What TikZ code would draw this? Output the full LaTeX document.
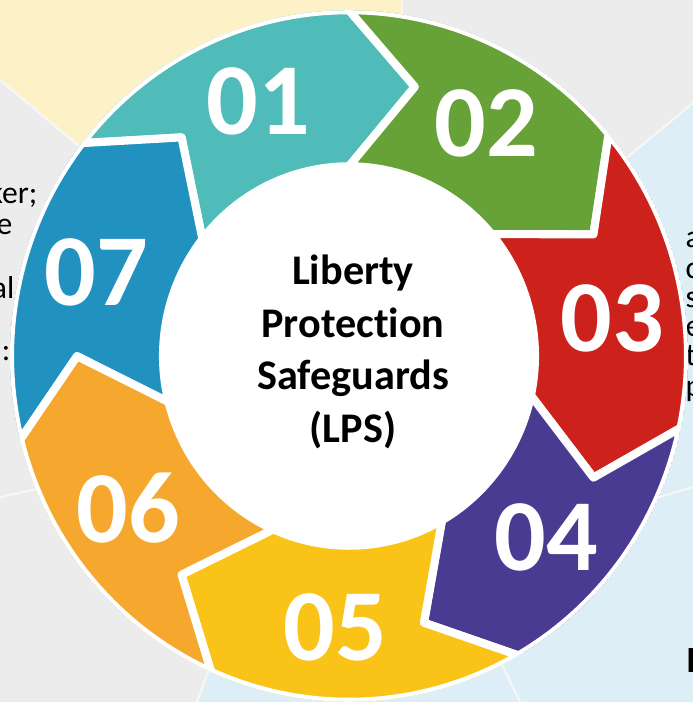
\documentclass[tikz,border=0pt]{standalone}
\usepackage{fontspec}
\setmainfont{Carlito}[Ligatures=NoCommon]
\definecolor{segA}{RGB}{80,188,186}
\definecolor{segB}{RGB}{103,162,57}
\definecolor{segC}{RGB}{204,34,27}
\definecolor{segD}{RGB}{74,59,146}
\definecolor{segE}{RGB}{249,196,23}
\definecolor{segF}{RGB}{245,167,46}
\definecolor{segG}{RGB}{33,145,192}
\definecolor{bggrey}{RGB}{236,236,236}
\definecolor{bgyellow}{RGB}{253,241,199}
\definecolor{bgblue}{RGB}{221,238,246}

\begin{document}
\begin{tikzpicture}[x=0.01cm,y=0.01cm,
    seg/.style={draw=white,line width=2.3pt,line join=round},
    num/.style={text=white,font=\fontsize{29}{29}\selectfont\bfseries,inner sep=0pt},
    seam/.style={draw=white!60!bggrey,line width=0.6pt},
    side/.style={font=\fontsize{9}{9}\selectfont,inner sep=0pt}]
  \useasboundingbox (0,0) rectangle (693,702);
  \fill[bggrey] (0,0) rectangle (693,702);
  \fill[bgyellow] (0,702) -- (402,702) -- (402,500) -- (200,455) -- (0,622) -- cycle;
  \fill[bgblue] (693,599) -- (560,489) -- (350,345) -- (240,118) -- (197,0) -- (693,0) -- cycle;
  \draw[seam] (0,622) -- (200,455);
  \draw[seam] (402,702) -- (402,500);
  \draw[seam] (693,599) -- (560,489);
  \draw[seam] (197,0) -- (240,118);
  \draw[seam] (520,0) -- (480,83);
  \draw[seam] (0,205) -- (150,237);
  \draw[seam] (693,215) -- (600,187);

  \node[side,anchor=base east] (l1) at (38,499) {ker;};
  \node[side,anchor=base east] (l2) at (13,468) {e};
  \node[side,anchor=base east] (l3) at (15,404) {al};
  \node[side,anchor=base east] (l4) at (11,341) {l:};
  \foreach[count=\k] \t/\y in {a/455,c/424,s/395,e/366,t/337,p/306} {
    \node[side,anchor=base west] (r\k) at (685,\y) {\t};
  }
  \node[font=\fontsize{10.5}{10.5}\selectfont\bfseries,inner sep=0pt,anchor=base west] (dd) at (686,30) {D};

  \begin{scope}[shift={(349,346)},yscale=1.02]
    \fill[white] (0,0) circle[radius=339];
    \clip (0,0) circle[radius=339];
    \foreach[count=\i] \c/\s/\e in {segA/142/90,segB/90/40,segC/40/-12,segD/-12/-60,segE/-60/-114,segF/-114/-166,segG/194/142} {
      \filldraw[seg,fill=\c] (\s:339) arc[start angle=\s,end angle=\e,radius=339]
        -- (\e-14:272) -- (\e:186) arc[start angle=\e,end angle=\s,radius=186]
        -- (\s-14:272) -- cycle;
      \node[num] (n\i) at ({(\s+\e)/2-6}:266) {0\i};
    }
  \end{scope}

  \node[font=\fontsize{12}{15}\selectfont\bfseries,align=center] (lps) at (353,350)
    {Liberty\\Protection\\Safeguards\\(LPS)};
\end{tikzpicture}
\end{document}
